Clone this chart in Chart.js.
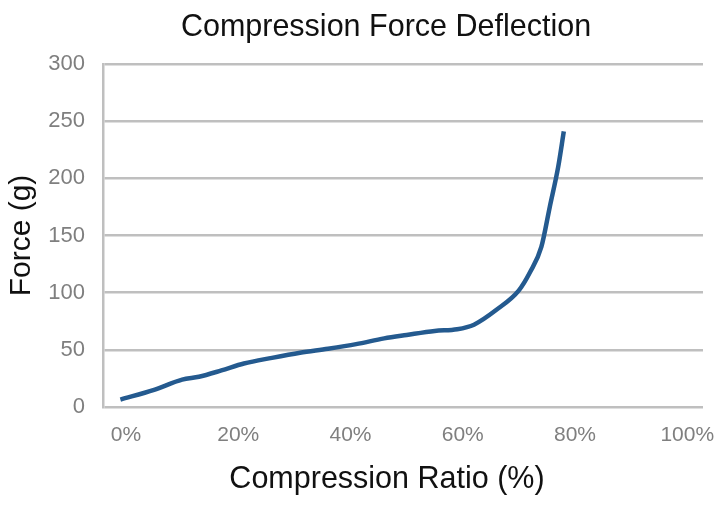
<!DOCTYPE html>
<html>
<head>
<meta charset="utf-8">
<script src="https://cdn.jsdelivr.net/npm/chart.js@4.4.1/dist/chart.umd.min.js"></script>
<style>
  html, body { margin: 0; padding: 0; background: #fff; }
  #wrap { width: 727px; height: 508px; }
</style>
</head>
<body>
<div id="wrap"><canvas id="cfd" width="727" height="508"></canvas></div>
<script>
// compression ratio (%) and force (g)
const ratio = [-1, 5, 10, 13, 17, 21, 26, 31, 36, 41, 46, 50, 55, 59, 62, 66, 70, 72, 74, 75.5, 77, 78];
const force = [6.5, 15, 24, 26.5, 32, 38, 43, 47.5, 51, 55, 60, 63, 66.5, 68, 72, 85, 102, 118, 140, 175, 210, 241];
const xTicks = [0, 20, 40, 60, 80, 100];
const yTicks = [0, 50, 100, 150, 200, 250, 300];

const chartTitle = 'Compression Force Deflection';
const xTitle = 'Compression Ratio (%)';
const yTitle = 'Force (g)';

const gridColor = '#bfbfbf';
const tickColor = '#7f7f7f';
const textFont = '"Liberation Sans", Arial, sans-serif';

// Title and x title sit a bit left of where Chart.js would center them
const freeText = {
    id: 'freeText',
    afterDraw(chart) {
        const c = chart.ctx;
        c.save();
        c.fillStyle = '#111';
        c.textAlign = 'center';
        c.textBaseline = 'middle';
        c.font = '30.5px ' + textFont;
        c.fillText(chartTitle, 386, 28);
        c.fillText(xTitle, 387, 480);
        c.restore();
    }
};

const ctx = document.getElementById('cfd').getContext('2d');

new Chart(ctx, {
    type: 'line',
    data: {
        datasets: [{
            label: 'Force',
            data: ratio.map((r, i) => ({ x: r, y: force[i] })),
            borderColor: '#245a8f',
            borderWidth: 4.5,
            pointRadius: 0,
            fill: false,
            cubicInterpolationMode: 'monotone'
        }]
    },
    options: {
        responsive: false,
        animation: false,
        layout: { padding: { top: 64, right: 24, bottom: 0, left: 0 } },
        scales: {
            x: {
                type: 'linear',
                min: -4.1,
                max: 102.8,
                afterBuildTicks: scale => { scale.ticks = xTicks.map(v => ({ value: v })); },
                afterFit: scale => {
                    scale.height = 101;
                    // the 100% label may hang past the plot edge, as in the original
                    scale.paddingLeft = 0;
                    scale.paddingRight = 0;
                },
                grid: { display: false, drawTicks: false },
                border: { display: false },
                ticks: {
                    color: tickColor,
                    padding: 16,
                    font: { family: textFont, size: 21 },
                    callback: v => v + '%'
                }
            },
            y: {
                min: 0,
                max: 300,
                afterBuildTicks: scale => { scale.ticks = yTicks.map(v => ({ value: v })); },
                afterFit: scale => { scale.width = 103; },
                grid: { color: gridColor, lineWidth: 2.5, drawTicks: false },
                border: { color: gridColor, width: 2.5 },
                ticks: {
                    color: tickColor,
                    padding: 18,
                    font: { family: textFont, size: 22 }
                },
                title: {
                    display: true,
                    text: yTitle,
                    color: '#111',
                    padding: { top: 4, bottom: 0 },
                    font: { family: textFont, size: 30 }
                }
            }
        },
        plugins: {
            legend: { display: false },
            tooltip: { enabled: false },
            title: { display: false }
        }
    },
    plugins: [freeText]
});
</script>
</body>
</html>
